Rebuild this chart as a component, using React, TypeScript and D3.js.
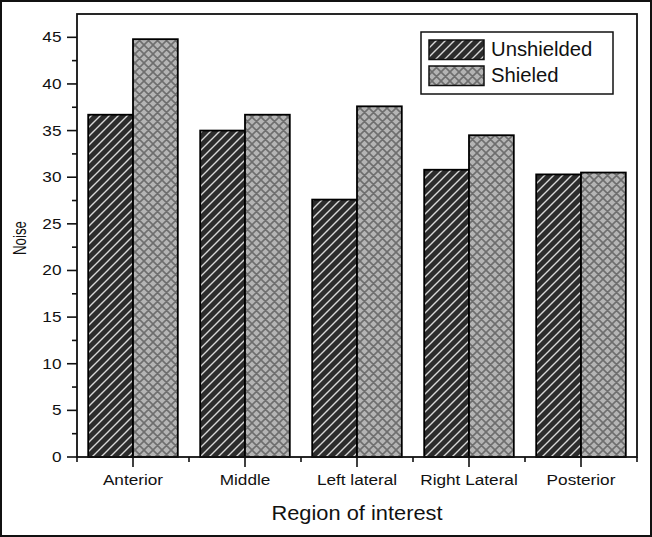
import React from "react";
import * as d3 from "d3";

const categories = ["Anterior", "Middle", "Left lateral", "Right Lateral", "Posterior"];
const seriesNames = ["Unshielded", "Shieled"];
const unshielded = [36.7, 35.0, 27.6, 30.8, 30.3];
const shielded = [44.8, 36.7, 37.6, 34.5, 30.5];
const yMajorTicks = [0, 5, 10, 15, 20, 25, 30, 35, 40, 45];
const yMinorTicks = [2.5, 7.5, 12.5, 17.5, 22.5, 27.5, 32.5, 37.5, 42.5];

const W = 652;
const H = 537;
const left = 77;
const right = 637;
const top = 14;
const bottom = 457;
const FONT = "'Liberation Sans', Arial, Helvetica, sans-serif";

export default function App() {
  const x = d3.scaleBand<string>().domain(categories).range([left, right]).padding(0);
  const bw = x.bandwidth();
  const xSub = d3.scaleBand<string>().domain(seriesNames).range([bw * 0.1, bw * 0.9]).padding(0);
  const y = d3.scaleLinear().domain([0, 47.5]).range([bottom, top]);

  const series = [
    { name: seriesNames[0], values: unshielded, fill: "url(#hatch)" },
    { name: seriesNames[1], values: shielded, fill: "url(#cross)" },
  ];

  const tickFs = 15.5;
  const tickSx = 1.11;

  const boundaries = categories.map((c) => x(c)!).concat([right]);

  return (
    <svg
      width={W}
      height={H}
      style={{ position: "absolute", left: 0, top: 0, background: "#fff" }}
      fontFamily={FONT}
    >
      <defs>
        <pattern id="hatch" patternUnits="userSpaceOnUse" width={9} height={9}>
          <rect width={9} height={9} fill="#2c2c2c" />
          <path d="M-1,10 L10,-1 M-2,2 L2,-2 M7,11 L11,7" stroke="#d8d8d8" strokeWidth={1.4} />
        </pattern>
        <pattern id="cross" patternUnits="userSpaceOnUse" width={9} height={9}>
          <rect width={9} height={9} fill="#b4b4b4" />
          <path
            d="M-1,10 L10,-1 M-2,2 L2,-2 M7,11 L11,7 M-1,-1 L10,10 M-2,7 L2,11 M7,-2 L11,2"
            stroke="#6e6e6e"
            strokeWidth={1.6}
          />
        </pattern>
      </defs>

      {/* outer frame */}
      <rect x={1} y={1} width={W - 2} height={H - 2} fill="none" stroke="#111" strokeWidth={2} />

      {/* bars */}
      {series.map((s) =>
        categories.map((c, i) => (
          <rect
            key={s.name + c}
            x={x(c)! + xSub(s.name)!}
            y={y(s.values[i])}
            width={xSub.bandwidth()}
            height={y(0) - y(s.values[i])}
            fill={s.fill}
            stroke="#000"
            strokeWidth={1.8}
          />
        ))
      )}

      {/* plot frame */}
      <rect x={left} y={top} width={right - left} height={bottom - top} fill="none" stroke="#111" strokeWidth={1.8} />

      {/* y ticks */}
      {yMajorTicks.map((t) => (
        <g key={"ym" + t}>
          <line x1={left - 10} x2={left} y1={y(t)} y2={y(t)} stroke="#111" strokeWidth={1.6} />
          <text
            transform={`translate(${61.5},${y(t) + 5}) scale(${tickSx},1)`}
            textAnchor="end"
            fontSize={tickFs}
            fill="#111"
          >
            {t}
          </text>
        </g>
      ))}
      {yMinorTicks.map((t) => (
        <line key={"yn" + t} x1={left - 5} x2={left} y1={y(t)} y2={y(t)} stroke="#111" strokeWidth={1.6} />
      ))}

      {/* x ticks */}
      {categories.map((c) => {
        const cx = x(c)! + bw / 2;
        return (
          <g key={"xm" + c}>
            <line x1={cx} x2={cx} y1={bottom} y2={bottom + 10} stroke="#111" strokeWidth={1.6} />
            <text
              transform={`translate(${cx},485) scale(${tickSx},1)`}
              textAnchor="middle"
              fontSize={tickFs}
              fill="#111"
            >
              {c}
            </text>
          </g>
        );
      })}
      {boundaries.map((b, i) => (
        <line key={"xn" + i} x1={b} x2={b} y1={bottom} y2={bottom + 5} stroke="#111" strokeWidth={1.6} />
      ))}

      {/* axis titles */}
      <text
        transform={`translate(357,520) scale(1.12,1)`}
        textAnchor="middle"
        fontSize={19.5}
        fill="#111"
      >
        Region of interest
      </text>
      <text
        transform={`translate(25.5,238) rotate(-90) scale(0.74,1)`}
        textAnchor="middle"
        fontSize={18}
        fill="#111"
      >
        Noise
      </text>

      {/* legend */}
      <rect x={421} y={32} width={192} height={62} fill="#fff" stroke="#111" strokeWidth={1.5} />
      {series.map((s, i) => (
        <g key={"lg" + s.name}>
          <rect
            x={429}
            y={40 + i * 26}
            width={55}
            height={19.5}
            fill={s.fill}
            stroke="#111"
            strokeWidth={1.5}
          />
          <text
            transform={`translate(491,${56 + i * 25.7}) scale(1.04,1)`}
            fontSize={19.5}
            fill="#111"
          >
            {s.name}
          </text>
        </g>
      ))}
    </svg>
  );
}
